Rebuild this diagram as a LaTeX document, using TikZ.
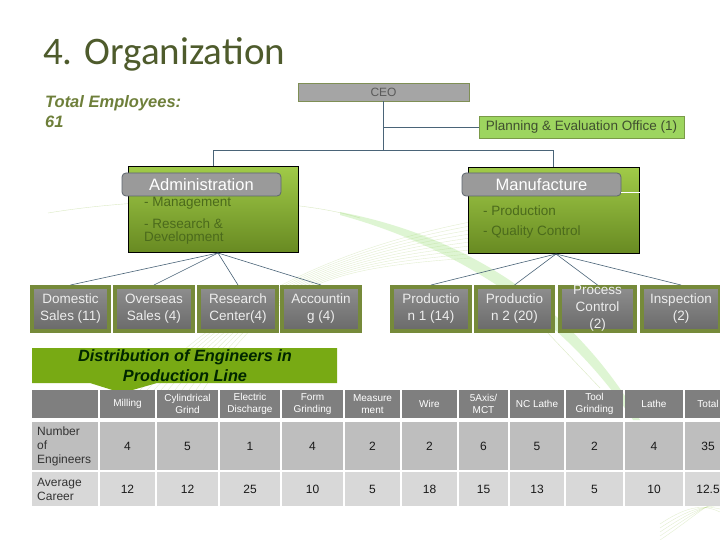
\documentclass[tikz,border=0pt]{standalone}
\usepackage{fontspec}
\setmainfont{Liberation Sans}
\newfontfamily\titlefont{Carlito}
\definecolor{titlecol}{HTML}{4E5B2C}
\definecolor{totcol}{HTML}{6E7F3A}
\definecolor{ceofill}{HTML}{A5A5A5}
\definecolor{ceodraw}{HTML}{7F8F55}
\definecolor{ceotext}{HTML}{5A5A5A}
\definecolor{planfill}{HTML}{9DD55F}
\definecolor{plandraw}{HTML}{7A9A48}
\definecolor{plantext}{HTML}{3F4F2F}
\definecolor{depttop}{HTML}{A0CA48}
\definecolor{deptbot}{HTML}{688A22}
\definecolor{depttext}{HTML}{4B6A1C}
\definecolor{labfill}{HTML}{9A9A9A}
\definecolor{labdraw}{HTML}{5E6670}
\definecolor{unitframe}{HTML}{768A3A}
\definecolor{unittop}{HTML}{8E8E8E}
\definecolor{unitbot}{HTML}{6A6A6A}
\definecolor{unittext}{HTML}{EDEDED}
\definecolor{linecol}{HTML}{4A6478}
\definecolor{bannercol}{HTML}{78AA14}
\definecolor{hdrfill}{HTML}{7F7F7F}
\definecolor{rowafill}{HTML}{BEBEBE}
\definecolor{rowbfill}{HTML}{D8D8D8}
\definecolor{decocol}{HTML}{B9D68A}
\begin{document}
\begin{tikzpicture}[x=1pt,y=-1pt,
  conn/.style={draw=linecol, line width=0.6pt},
  ceobox/.style={draw=ceodraw, fill=ceofill, line width=0.8pt, minimum width=171pt, minimum height=18pt, inner sep=0pt, text=ceotext, font=\fontsize{12}{14}\selectfont},
  planbox/.style={draw=plandraw, fill=planfill, line width=0.8pt, minimum width=205pt, minimum height=22pt, inner sep=0pt, text=plantext, font=\fontsize{13.5}{16}\selectfont},
  deptbox/.style={draw=black, line width=1pt, top color=depttop, bottom color=deptbot, minimum height=85pt, inner sep=0pt},
  labbox/.style={draw=labdraw, fill=labfill, line width=0.8pt, rounded corners=4pt, minimum width=159pt, minimum height=23pt, inner sep=0pt, text=white, font=\fontsize{16.5}{18}\selectfont},
  dtext/.style={anchor=west, inner sep=0pt, text=depttext, font=\fontsize{13.5}{16}\selectfont},
  unitbox/.style={draw=unitframe, line width=4pt, top color=unittop, bottom color=unitbot, minimum height=44pt, inner sep=0pt},
  utext/.style={text=unittext, align=center, inner sep=0pt, font=\fontsize{13.5}{17}\selectfont},
  hdrtext/.style={text=white, align=center, inner sep=0pt, font=\fontsize{10}{12}\selectfont},
  celltext/.style={text=black!90, align=center, inner sep=0pt, font=\fontsize{12}{14}\selectfont},
  deco/.style={draw=decocol, line width=0.4pt, opacity=0.5}
]
\useasboundingbox (0,0) rectangle (720,540);
\clip (0,0) rectangle (720,540);
\fill[white] (0,0) rectangle (720,540);

% faint background decoration
\draw[deco] (48,213) .. controls (150,196) and (290,196) .. (360,218);
\foreach \k in {0,...,9} {
  \draw[deco, opacity=0.4] (140+\k*7,390) .. controls (230+\k*5,300-\k*2) and (330,250+\k*2) .. (470,222+\k*4);
}
\fill[decocol!80!green, opacity=0.3] (340,212) .. controls (460,235) and (570,300) .. (640,420)
   -- (633,420) .. controls (560,310) and (450,245) .. (340,215) -- cycle;
\draw[deco] (545,330) -- (600,388);
\foreach \k in {0,...,4} {
  \draw[deco, opacity=0.4] (660,540-\k*4) .. controls (690,520-\k*4) and (705,505) .. (720,500+\k*3);
}

% title
\node[anchor=base west, inner sep=0pt, text=titlecol, font=\titlefont\fontsize{39}{44}\selectfont] (title) at (43,65) {4. Organization};
\node[anchor=north west, inner sep=0pt, align=left, text=totcol, font=\fontsize{16.5}{20}\selectfont\bfseries\itshape] (total) at (45,95) {Total Employees:\\61};

% top boxes
\node[ceobox] (ceo) at (383.5,92) {CEO};
\node[planbox] (plan) at (581.5,127) {Planning \& Evaluation Office (1)};

\node[deptbox, minimum width=170pt] (adm) at (213,209.5) {};
\node[deptbox, minimum width=171pt] (man) at (553.5,210.5) {};
\node[labbox] (admlab) at (201.5,184.5) {Administration};
\node[labbox] (manlab) at (541.5,184.5) {Manufacture};
\draw[white, line width=1pt] (manlab.east |- 0,193) -- (man.east |- 0,193);

\node[dtext] (adm1) at (144,203) {- Management};
\node[dtext] (adm2) at (144,224) {- Research \&};
\node[dtext] (adm3) at (144,238.5) {Development};
\node[dtext] (man1) at (483,211) {- Production};
\node[dtext] (man2) at (483,232) {- Quality Control};

% CEO connectors
\coordinate (j) at (383.5,150);
\coordinate (jp) at (383.5,127);
\draw[conn] (ceo.south) -- (j);
\draw[conn] (jp) -- (plan.west);
\draw[conn] (j) -| (adm.north);
\draw[conn] (j) -| (man.north);

% unit boxes
\node[unitbox, minimum width=77pt] (dom) at (70.5,309) {};
\node[unitbox, minimum width=78pt] (ovs) at (154,309) {};
\node[unitbox, minimum width=78pt] (res) at (238,309) {};
\node[unitbox, minimum width=78pt] (acc) at (321,309) {};
\node[unitbox, minimum width=78pt] (pr1) at (431,309) {};
\node[unitbox, minimum width=77pt] (pr2) at (514.5,309) {};
\node[unitbox, minimum width=75pt] (pc) at (597.5,309) {};
\node[unitbox, minimum width=78pt] (ins) at (681,309) {};

\node[utext] (domt) at (dom) {Domestic\\Sales (11)};
\node[utext] (ovst) at (ovs) {Overseas\\Sales (4)};
\node[utext] (rest) at (res) {Research\\Center(4)};
\node[utext] (acct) at (acc) {Accountin\\g (4)};
\node[utext] (pr1t) at (pr1) {Productio\\n 1 (14)};
\node[utext] (pr2t) at (pr2) {Productio\\n 2 (20)};
\node[utext] (pct) at ([yshift=1pt]pc.center) {Process\\Control\\(2)};
\node[utext] (inst) at (ins) {Inspection\\(2)};

% fan connectors
\coordinate (admfan) at (218,253);
\coordinate (manfan) at (556,254);
\foreach \t in {dom,ovs,res,acc} { \draw[conn] (admfan) -- (\t.north); }
\foreach \t in {pr1,pr2,pc,ins} { \draw[conn] (manfan) -- (\t.north); }

% banner
\fill[bannercol] (32,348) -- (337,348) -- (337,383) -- (157,383) -- (122,393) -- (90,383) -- (32,383) -- cycle;
\node[align=center, inner sep=0pt, text=black!85!green, font=\fontsize{16.3}{20}\selectfont\bfseries\itshape] (banner) at (185,366) {Distribution of Engineers in\\Production Line};

% table
\fill[hdrfill] (32,390) rectangle (98,418);
\fill[rowafill] (32,422) rectangle (98,470);
\fill[rowbfill] (32,472) rectangle (98,506);
\node[anchor=west, align=left, inner sep=0pt, text=black!80, font=\fontsize{12}{14}\selectfont] (rowa) at (37,446) {Number\\of\\Engineers};
\node[anchor=west, align=left, inner sep=0pt, text=black!80, font=\fontsize{12}{14}\selectfont] (rowb) at (37,489) {Average\\Career};
\foreach \l/\r/\h/\a/\b [count=\i] in {
  100/155/{Milling}/4/12,
  157/218/{Cylindrical\\Grind}/5/12,
  220/280/{Electric\\Discharge}/1/25,
  282/343/{Form\\Grinding}/4/10,
  345/400/{Measure\\ment}/2/5,
  402/457/{Wire}/2/18,
  459/508/{5Axis/\\MCT}/6/15,
  510/564/{NC Lathe}/5/13,
  566/623/{Tool\\Grinding}/2/5,
  625/683/{Lathe}/4/10,
  685/731/{Total}/35/12.5} {
  \fill[hdrfill] (\l,390) rectangle (\r,418);
  \fill[rowafill] (\l,422) rectangle (\r,470);
  \fill[rowbfill] (\l,472) rectangle (\r,506);
  \node[hdrtext] (h\i) at ({(\l+\r)/2},404) {\h};
  \node[celltext] (a\i) at ({(\l+\r)/2},446) {\a};
  \node[celltext] (b\i) at ({(\l+\r)/2},489) {\b};
}
\end{tikzpicture}
\end{document}
